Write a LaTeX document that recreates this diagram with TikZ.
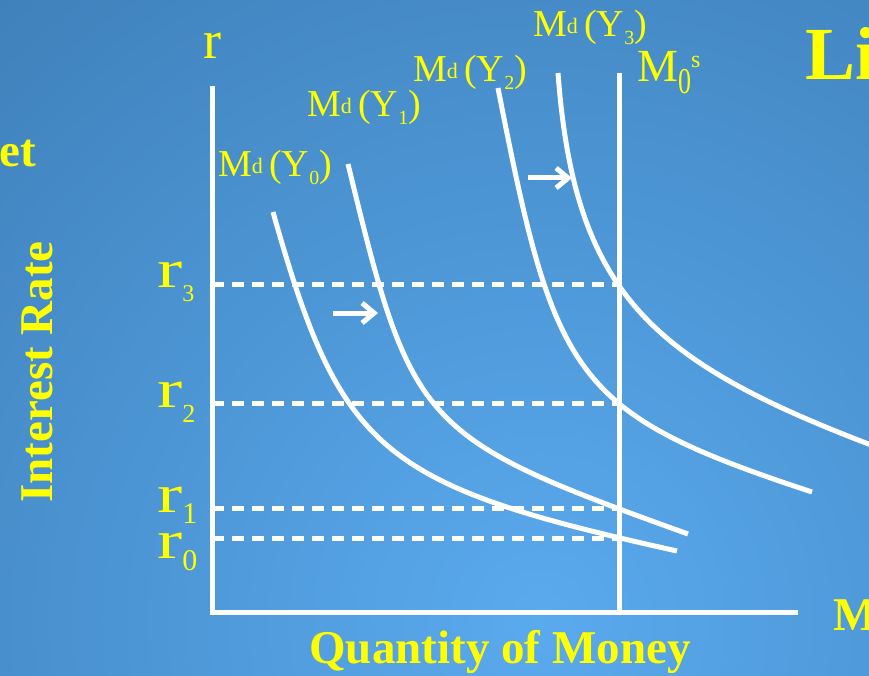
\documentclass[tikz,border=0pt]{standalone}
\usepackage{fontspec}
\setmainfont{Liberation Serif}
\usepackage{tikz}
\usetikzlibrary{arrows.meta}

\definecolor{slideyellow}{RGB}{255,255,0}
\definecolor{bgdark}{RGB}{42,98,148}
\definecolor{bglight}{RGB}{90,170,238}

% money demand label M^d(Y_i)
\newcommand{\Md}[1]{M\raisebox{3pt}{\fontsize{22}{22}\selectfont d}\,(Y\raisebox{-8pt}{\fontsize{20}{20}\selectfont #1})}
% interest rate label r_i: subscript, subscript size, drop
\newcommand{\rlab}[3]{\scalebox{1.4}[1]{\fontsize{54}{54}\selectfont r}\raisebox{-#3}{\fontsize{#2}{#2}\selectfont #1}}

\tikzset{
	axis/.style={draw=white, line width=5pt},
	guide/.style={draw=white, line width=5pt, dash pattern=on 12pt off 8pt},
	demand/.style={draw=white, line width=5pt},
	shiftarrow/.style={draw=white, line width=5pt, -{Straight Barb[length=12pt,width=20pt]}},
	lbl/.style={text=slideyellow, inner sep=0pt, font=\fontsize{38}{38}\selectfont},
	title/.style={lbl, font=\bfseries\fontsize{47}{47}\selectfont}
}

\begin{document}
\begin{tikzpicture}[x=1pt, y=-1pt]
		
		% =========================================================
		% Background
		% =========================================================
		\useasboundingbox (0,0) rectangle (869,676);
		\clip (0,0) rectangle (869,676);
		\fill[bgdark] (0,0) rectangle (869,676);
		\shade[inner color=bglight, outer color=bgdark] (540,620) circle (1450);
		
		% =========================================================
		% Axes and money supply
		% =========================================================
		\coordinate (ytop) at (212,86);
		\coordinate (O) at (212,612);
		\coordinate (xend) at (798,612);
		\coordinate (Mtop) at (619,73);
		\coordinate (Mbot) at (619,612);
		
		% Equilibrium rates
		\coordinate (r3L) at (212,284);
		\coordinate (r3R) at (619,284);
		\coordinate (r2L) at (212,403);
		\coordinate (r2R) at (619,403);
		\coordinate (r1L) at (212,508);
		\coordinate (r1R) at (619,508);
		\coordinate (r0L) at (212,538);
		\coordinate (r0R) at (619,538);
		
		\draw[guide] (r3L) -- (r3R);
		\draw[guide] (r2L) -- (r2R);
		\draw[guide] (r1L) -- (r1R);
		\draw[guide] (r0L) -- (r0R);
		
		\draw[axis] (ytop) -- (O) -- (xend);
		\draw[axis] (Mtop) -- (Mbot);
		
		% =========================================================
		% Money demand curves
		% =========================================================
		\draw[demand] (273,212) .. controls (341,453) and (380,485) .. (677,551);
		\draw[demand] (348,164) .. controls (412,428) and (418,437) .. (688,534);
		\draw[demand] (498,88) .. controls (555,379) and (572,413) .. (812,492);
		\draw[demand] (558,73) .. controls (575,300) and (655,365) .. (895,454);
		
		% Shift arrows
		\coordinate (s1a) at (333,313);
		\coordinate (s1b) at (378,313);
		\coordinate (s2a) at (528,178);
		\coordinate (s2b) at (572,178);
		\draw[shiftarrow] (s1a) -- (s1b);
		\draw[shiftarrow] (s2a) -- (s2b);
		
		% =========================================================
		% Labels
		% =========================================================
		\node[lbl, anchor=base west] (md0) at (218,177) {\Md{0}};
		\node[lbl, anchor=base west] (md1) at (307,117) {\Md{1}};
		\node[lbl, anchor=base west] (md2) at (413,82) {\Md{2}};
		\node[lbl, anchor=base west] (md3) at (533,37) {\Md{3}};
		\node[lbl, anchor=base west] (ms0) at (637,82)
		{{\fontsize{46}{46}\selectfont M}\raisebox{-12pt}{\scalebox{1}[1.4]{\fontsize{26}{26}\selectfont 0}}\raisebox{14pt}{\fontsize{24}{24}\selectfont s}};
		
		\node[lbl, anchor=base west] (rax) at (203,59) {\fontsize{54}{54}\selectfont r};
		\node[lbl, anchor=base west] (r3) at (157,287) {\rlab{3}{24}{14pt}};
		\node[lbl, anchor=base west] (r2) at (157,407) {\rlab{2}{26}{15pt}};
		\node[lbl, anchor=base west] (r1) at (157,512) {\rlab{1}{30}{11pt}};
		\node[lbl, anchor=base west] (r0) at (157,558) {\rlab{0}{30}{12pt}};
		
		% Titles
		\node[title, anchor=base] (xtitle) at (500,663) {Quantity of Money};
		\node[title, anchor=base, rotate=90] (ytitle) at (52,372) {Interest Rate};
		\node[title, anchor=base east] (lefttxt) at (36,167) {et};
		\node[title, anchor=base west] (righttxt) at (833,630) {M};
		\node[title, anchor=base west, font=\bfseries\fontsize{75}{75}\selectfont] (toptxt) at (805,80) {Li};
		
	\end{tikzpicture}
\end{document}
